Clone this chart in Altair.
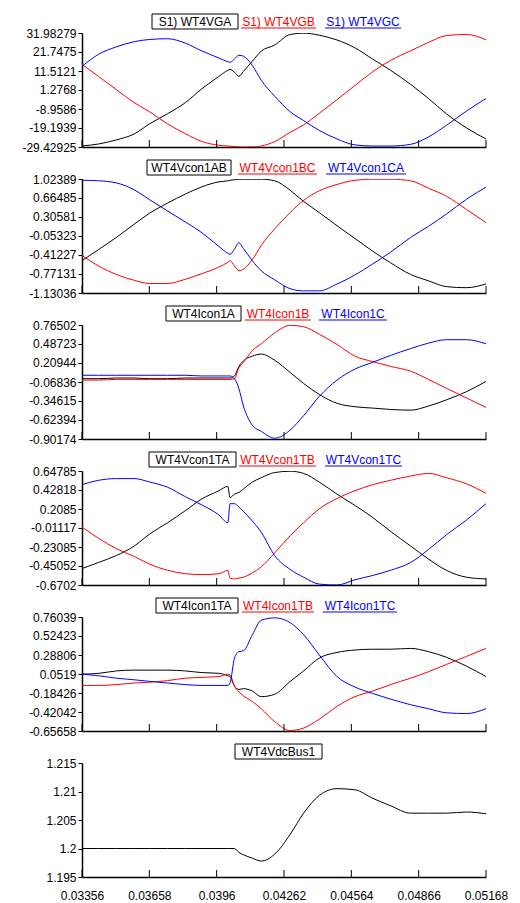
import altair as alt
import pandas as pd

# ---------------- data ----------------
t_vals = [0.03356, 0.0343, 0.0351, 0.0359, 0.0366, 0.0374, 0.0382, 0.0389, 0.0397, 0.0401,
          0.0402, 0.0404, 0.0406, 0.0408, 0.0412, 0.0416, 0.0422, 0.0429, 0.0435, 0.0442,
          0.0450, 0.0458, 0.0466, 0.0474, 0.0483, 0.0491, 0.0499, 0.0508, 0.05168]
x_ticks = [0.03356, 0.03658, 0.0396, 0.04262, 0.04564, 0.04866, 0.05168]

names1 = ["S1) WT4VGA", "S1) WT4VGB", "S1) WT4VGC"]
vga = [-28.9, -27.8, -25.6, -22.4, -16.9, -11.5, -5.5, 1.6, 8.6, 11.9, 12.4, 10.8, 8.6, 11.3, 16.8,
       22.2, 25.5, 31.2, 31.9, 30.8, 28.2, 24.0, 17.9, 11.9, 4.3, -3.3, -11.5, -19.1, -25.1]
vgb = [15.1, 8.6, 1.5, -5.5, -10.5, -17.0, -22.3, -26.3, -28.5, -28.9, -29.0, -29.2, -29.4, -29.4, -29.4,
       -28.9, -26.5, -21.5, -17.5, -11.3, -3.9, 3.7, 11.1, 17.2, 22.4, 26.9, 30.6, 31.2, 28.3]
vgc = [14.0, 20.5, 24.5, 27.3, 28.5, 28.9, 26.5, 22.5, 18.5, 16.5, 16.2, 18.0, 20.0, 19.5, 14.5,
       6.5, -2.0, -10.5, -15.2, -20.5, -25.1, -28.3, -28.9, -28.9, -28.0, -24.0, -17.8, -10.1, -3.3]
ticks1 = [31.98279, 21.7475, 11.5121, 1.2768, -8.9586, -19.1939, -29.42925]

names2 = ["WT4Vcon1AB", "WT4Vcon1BC", "WT4Vcon1CA"]
vab = [-0.52, -0.31, -0.08, 0.17, 0.38, 0.57, 0.74, 0.87, 0.97, 0.99, 1.00, 1.01, 1.02, 1.02, 1.02,
       1.02, 0.99, 0.81, 0.60, 0.39, 0.14, -0.10, -0.34, -0.56, -0.78, -0.90, -1.01, -1.03, -0.96]
vbc = [-0.42, -0.62, -0.78, -0.89, -0.95, -0.95, -0.87, -0.77, -0.64, -0.55, -0.52, -0.62, -0.71, -0.68, -0.50,
       -0.23, 0.08, 0.39, 0.62, 0.80, 0.92, 1.00, 1.02, 1.02, 0.99, 0.85, 0.70, 0.45, 0.20]
vca = [1.00, 0.99, 0.95, 0.82, 0.63, 0.42, 0.21, 0.02, -0.25, -0.38, -0.40, -0.30, -0.18, -0.29, -0.52,
       -0.71, -0.88, -1.05, -1.09, -1.09, -0.96, -0.79, -0.58, -0.36, -0.08, 0.13, 0.36, 0.64, 0.87]
ticks2 = [1.02389, 0.66485, 0.30581, -0.05323, -0.41227, -0.77131, -1.13036]

names3 = ["WT4Icon1A", "WT4Icon1B", "WT4Icon1C"]
ia = [-0.02, -0.02, -0.01, -0.01, -0.02, -0.02, -0.01, -0.01, -0.01, -0.01, -0.01, 0.02, 0.16, 0.24, 0.31,
      0.34, 0.25, 0.07, -0.09, -0.25, -0.38, -0.43, -0.45, -0.47, -0.48, -0.42, -0.33, -0.21, -0.06]
ib = [-0.04, -0.04, -0.03, -0.03, -0.03, -0.03, -0.03, -0.03, -0.03, -0.03, -0.03, -0.02, 0.14, 0.22, 0.39,
      0.49, 0.65, 0.76, 0.74, 0.63, 0.48, 0.31, 0.23, 0.16, 0.09, -0.03, -0.16, -0.30, -0.44]
ic = [0.03, 0.03, 0.03, 0.03, 0.03, 0.03, 0.03, 0.02, 0.02, 0.02, 0.02, -0.02, -0.17, -0.42, -0.70,
      -0.79, -0.89, -0.77, -0.56, -0.28, -0.04, 0.12, 0.22, 0.32, 0.42, 0.50, 0.55, 0.55, 0.49]
ticks3 = [0.76502, 0.48723, 0.20944, -0.06836, -0.34615, -0.62394, -0.90174]

names4 = ["WT4Vcon1TA", "WT4Vcon1TB", "WT4Vcon1TC"]
vta = [-0.48, -0.41, -0.33, -0.22, -0.08, 0.05, 0.19, 0.32, 0.42, 0.47, 0.34, 0.38, 0.40, 0.44, 0.52,
       0.57, 0.63, 0.645, 0.62, 0.52, 0.38, 0.25, 0.11, -0.05, -0.22, -0.37, -0.50, -0.58, -0.60]
vtb = [0.0, -0.13, -0.25, -0.34, -0.43, -0.50, -0.54, -0.55, -0.54, -0.50, -0.59, -0.60, -0.59, -0.58, -0.53,
       -0.46, -0.30, -0.10, 0.05, 0.21, 0.33, 0.42, 0.49, 0.54, 0.59, 0.62, 0.57, 0.50, 0.39]
vtc = [0.49, 0.54, 0.56, 0.56, 0.52, 0.46, 0.35, 0.26, 0.14, 0.05, 0.27, 0.27, 0.23, 0.18, 0.07,
       -0.06, -0.33, -0.49, -0.58, -0.66, -0.67, -0.61, -0.56, -0.50, -0.41, -0.26, -0.09, 0.08, 0.27]
ticks4 = [0.64785, 0.42818, 0.2085, -0.01117, -0.23085, -0.45052, -0.6702]

names5 = ["WT4Icon1TA", "WT4Icon1TB", "WT4Icon1TC"]
ita = [0.05, 0.06, 0.09, 0.10, 0.10, 0.10, 0.09, 0.07, 0.06, 0.03, 0.02, -0.10, -0.14, -0.13, -0.16,
       -0.23, -0.20, -0.04, 0.09, 0.25, 0.32, 0.35, 0.36, 0.36, 0.37, 0.33, 0.26, 0.15, 0.02]
itb = [-0.09, -0.09, -0.08, -0.06, -0.05, -0.03, 0.00, 0.01, 0.02, 0.05, 0.04, -0.10, -0.17, -0.22, -0.29,
       -0.38, -0.54, -0.65, -0.62, -0.51, -0.35, -0.23, -0.16, -0.08, 0.00, 0.08, 0.17, 0.27, 0.37]
itc = [0.05, 0.03, 0.00, -0.02, -0.04, -0.06, -0.08, -0.09, -0.09, -0.09, -0.06, 0.25, 0.33, 0.34, 0.54,
       0.72, 0.75, 0.69, 0.54, 0.29, 0.02, -0.11, -0.19, -0.26, -0.33, -0.38, -0.43, -0.44, -0.38]
ticks5 = [0.76039, 0.52423, 0.28806, 0.0519, -0.18426, -0.42042, -0.65658]

names6 = ["WT4VdcBus1"]
vdc = [1.2, 1.2, 1.2, 1.2, 1.2, 1.2, 1.2, 1.2, 1.2, 1.2, 1.2, 1.2, 1.1993, 1.1989, 1.1983,
       1.1978, 1.1990, 1.2025, 1.2062, 1.2093, 1.2105, 1.2103, 1.2088, 1.2075, 1.2062, 1.2062, 1.2062, 1.2064, 1.2061]
ticks6 = [1.215, 1.21, 1.205, 1.2, 1.195]

# ---------------- layout / style ----------------
W, H = 404, 114
COLORS = ["#000000", "#ff0000", "#0000ff"]
FONT = "Liberation Sans"

panels = [
    (names1, [vga, vgb, vgc], ticks1, [(70, 156), (159, 234), (243, 319)]),
    (names2, [vab, vbc, vca], ticks2, [(65, 149), (156, 235), (244, 324)]),
    (names3, [ia, ib, ic], ticks3, [(84, 159), (163, 229), (237, 305)]),
    (names4, [vta, vtb, vtc], ticks4, [(67, 154), (157, 234), (243, 320)]),
    (names5, [ita, itb, itc], ticks5, [(74, 156), (160, 232), (241, 315)]),
    (names6, [vdc], ticks6, [(153, 240)]),
]


def make_panel(names, series, yticks, legend, last):
    rows = []
    for nm, vals in zip(names, series):
        for tv, vv in zip(t_vals, vals):
            rows.append({"t": tv, "v": vv, "s": nm})
    df = pd.DataFrame(rows)
    xaxis = alt.Axis(values=x_ticks, labels=last, ticks=False, tickSize=0, grid=False, title=None,
                     domainColor="black", domainWidth=1.5, labelExpr="'' + datum.value",
                     labelFont=FONT, labelFontSize=12, labelColor="black", labelPadding=13,
                     labelFlush=False, labelOverlap=False)
    yaxis = alt.Axis(values=yticks, grid=False, title=None, domainColor="black", domainWidth=1.5,
                     tickColor="black", tickSize=4, labelPadding=2, labelExpr="'' + datum.value",
                     labelFont=FONT, labelFontSize=12, labelColor="black",
                     labelFlush=False, labelOverlap=False)
    n = len(names)
    lines = alt.Chart(df).mark_line(strokeWidth=1, interpolate="monotone", clip=True).encode(
        x=alt.X("t:Q", scale=alt.Scale(domain=[x_ticks[0], x_ticks[-1]], nice=False, zero=False), axis=xaxis),
        y=alt.Y("v:Q", scale=alt.Scale(domain=[min(yticks), max(yticks)], nice=False, zero=False), axis=yaxis),
        color=alt.Color("s:N", scale=alt.Scale(domain=names, range=COLORS[:n]), legend=None),
    )
    tick_marks = alt.Chart(pd.DataFrame({"t": x_ticks})).mark_rule(color="black", strokeWidth=1).encode(
        x="t:Q", y=alt.value(H - 7), y2=alt.value(H)
    )
    layers = [lines, tick_marks]
    for i, (nm, (a, b)) in enumerate(zip(names, legend)):
        ldf = pd.DataFrame({"label": [nm]})
        txt = alt.Chart(ldf).mark_text(font=FONT, fontSize=12, color=COLORS[i], align="center",
                                        baseline="middle").encode(
            text="label:N", x=alt.value((a + b) / 2), y=alt.value(-11.5))
        if i == 0:
            deco = alt.Chart(ldf).mark_rect(fillOpacity=0, stroke="black", strokeWidth=1).encode(
                x=alt.value(a), x2=alt.value(b), y=alt.value(-19), y2=alt.value(-4))
        else:
            deco = alt.Chart(ldf).mark_rule(color=COLORS[i], strokeWidth=1).encode(
                x=alt.value(a), x2=alt.value(b), y=alt.value(-5))
        layers += [deco, txt]
    return alt.layer(*layers).properties(width=W, height=H)


charts = [make_panel(*p, last=(k == len(panels) - 1)) for k, p in enumerate(panels)]

chart = alt.vconcat(*charts, spacing=32, bounds="flush").properties(
    padding={"left": 13, "top": 5, "right": 0, "bottom": 0},
    background="white",
).configure_view(stroke=None)

chart.save("out.html", embed_options={"renderer": "svg", "actions": False})
